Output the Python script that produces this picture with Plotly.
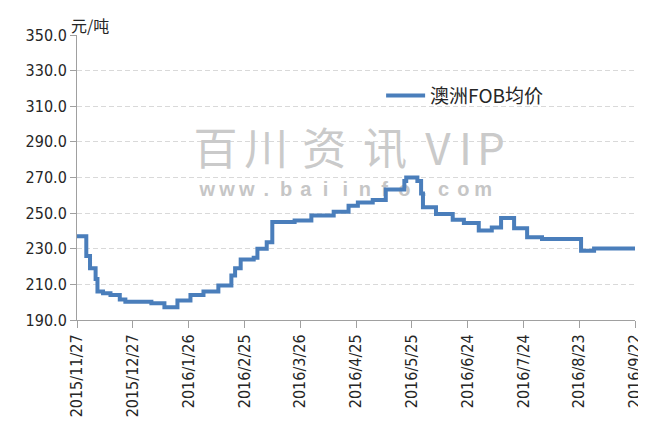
import plotly.graph_objects as go

# ---- data ----
dates = [
    "2015-11-27", "2015-12-02", "2015-12-04", "2015-12-07", "2015-12-08", "2015-12-11",
    "2015-12-15", "2015-12-20", "2015-12-23", "2016-01-06", "2016-01-13", "2016-01-20",
    "2016-01-27", "2016-02-03", "2016-02-11", "2016-02-18", "2016-02-20", "2016-02-23",
    "2016-03-01", "2016-03-03", "2016-03-08", "2016-03-11", "2016-03-23", "2016-04-01",
    "2016-04-13", "2016-04-21", "2016-04-26", "2016-05-04", "2016-05-11", "2016-05-21",
    "2016-05-22", "2016-05-28", "2016-05-30", "2016-05-31", "2016-06-07", "2016-06-16",
    "2016-06-22", "2016-06-30", "2016-07-07", "2016-07-12", "2016-07-19", "2016-07-26",
    "2016-08-03", "2016-08-24", "2016-08-31", "2016-09-22",
]
prices = [
    237.0, 226.0, 219.0, 213.0, 206.0, 205.0,
    204.0, 201.5, 200.3, 199.4, 197.1, 201.0,
    204.0, 206.0, 209.3, 215.0, 219.0, 224.0,
    225.0, 230.0, 233.6, 245.0, 245.8, 248.6,
    250.8, 254.2, 256.0, 257.4, 263.2, 268.0,
    270.0, 268.0, 261.0, 253.3, 249.5, 246.3,
    244.5, 240.2, 242.0, 247.3, 241.5, 236.4,
    235.5, 228.9, 230.2, 230.2,
]
series_name = "澳洲FOB均价"
unit_label = "元/吨"

tick_dates = ["2015-11-27", "2015-12-27", "2016-01-26", "2016-02-25", "2016-03-26",
              "2016-04-25", "2016-05-25", "2016-06-24", "2016-07-24", "2016-08-23",
              "2016-09-22"]
tick_labels = ["2015/11/27", "2015/12/27", "2016/1/26", "2016/2/25", "2016/3/26",
               "2016/4/25", "2016/5/25", "2016/6/24", "2016/7/24", "2016/8/23",
               "2016/9/22"]

wm_main = ["百", "川", "资", "讯", "V", "I", "P"]
wm_url = list("www.baiinfo.com")

# ---- figure ----
fig = go.Figure()

# watermark (on base, hidden axes -> drawn beneath data subplot)
wm_main_x = [0.248, 0.339, 0.443, 0.552, 0.647, 0.696, 0.742]
fig.add_trace(go.Scatter(
    x=wm_main_x, y=[0.582] * len(wm_main), text=wm_main, mode="text",
    textfont=dict(family="Noto Sans CJK SC", size=44, color="#cacaca"),
    showlegend=False, hoverinfo="skip", xaxis="x", yaxis="y",
))
url_x = [0.2335 + i * 0.0353 for i in range(len(wm_url))]
fig.add_trace(go.Scatter(
    x=url_x, y=[0.454] * len(wm_url), text=wm_url, mode="text",
    textfont=dict(family="Liberation Sans", size=20, color="#c6c6c6", weight="bold"),
    showlegend=False, hoverinfo="skip", xaxis="x", yaxis="y",
))

fig.add_trace(go.Scatter(
    x=dates, y=prices, name=series_name, mode="lines",
    line=dict(color="#4a7ebb", width=4, shape="hv"),
    xaxis="x2", yaxis="y2",
))

axis_color = "#a0a0a0"
tick_font = dict(family="DejaVu Sans Condensed, DejaVu Sans, sans-serif", size=16, color="#262626")

# page body has an 8px default margin, so the figure is sized to fit inside it
fig.update_layout(
    width=638, height=413,
    margin=dict(l=69, r=11, t=27, b=101),
    paper_bgcolor="white", plot_bgcolor="white",
    xaxis=dict(range=[0, 1], visible=False, fixedrange=True, automargin=False),
    yaxis=dict(range=[0, 1], visible=False, fixedrange=True, automargin=False),
    xaxis2=dict(
        overlaying="x", anchor="y2", side="bottom", automargin=False,
        type="date", range=["2015-11-27", "2016-09-22"],
        tickmode="array", tickvals=tick_dates, ticktext=tick_labels,
        tickangle=-90, tickfont=tick_font,
        showline=True, linecolor=axis_color, linewidth=1,
        ticks="outside", ticklen=7, tickcolor=axis_color,
        showgrid=False, zeroline=False,
    ),
    yaxis2=dict(
        overlaying="y", anchor="x2", side="left", automargin=False,
        range=[190, 350], dtick=20, tick0=190, tickformat=".1f",
        tickfont=tick_font,
        showline=True, linecolor=axis_color, linewidth=1,
        ticks="outside", ticklen=6, tickcolor=axis_color,
        showgrid=True, gridcolor="#d9d9d9", griddash="5px,3px", gridwidth=1,
        zeroline=False,
    ),
    legend=dict(
        x=0.545, y=0.787, xanchor="left", yanchor="middle",
        bgcolor="rgba(0,0,0,0)", itemwidth=39,
        font=dict(family="Noto Sans CJK SC", size=19, color="#262626"),
    ),
    showlegend=True,
    annotations=[dict(
        text=unit_label, xref="paper", yref="paper",
        x=-0.0143, y=1.035, xanchor="left", yanchor="middle",
        showarrow=False,
        font=dict(family="Noto Sans CJK SC", size=16, color="#262626"),
    )],
)

fig.write_html("out.html")
